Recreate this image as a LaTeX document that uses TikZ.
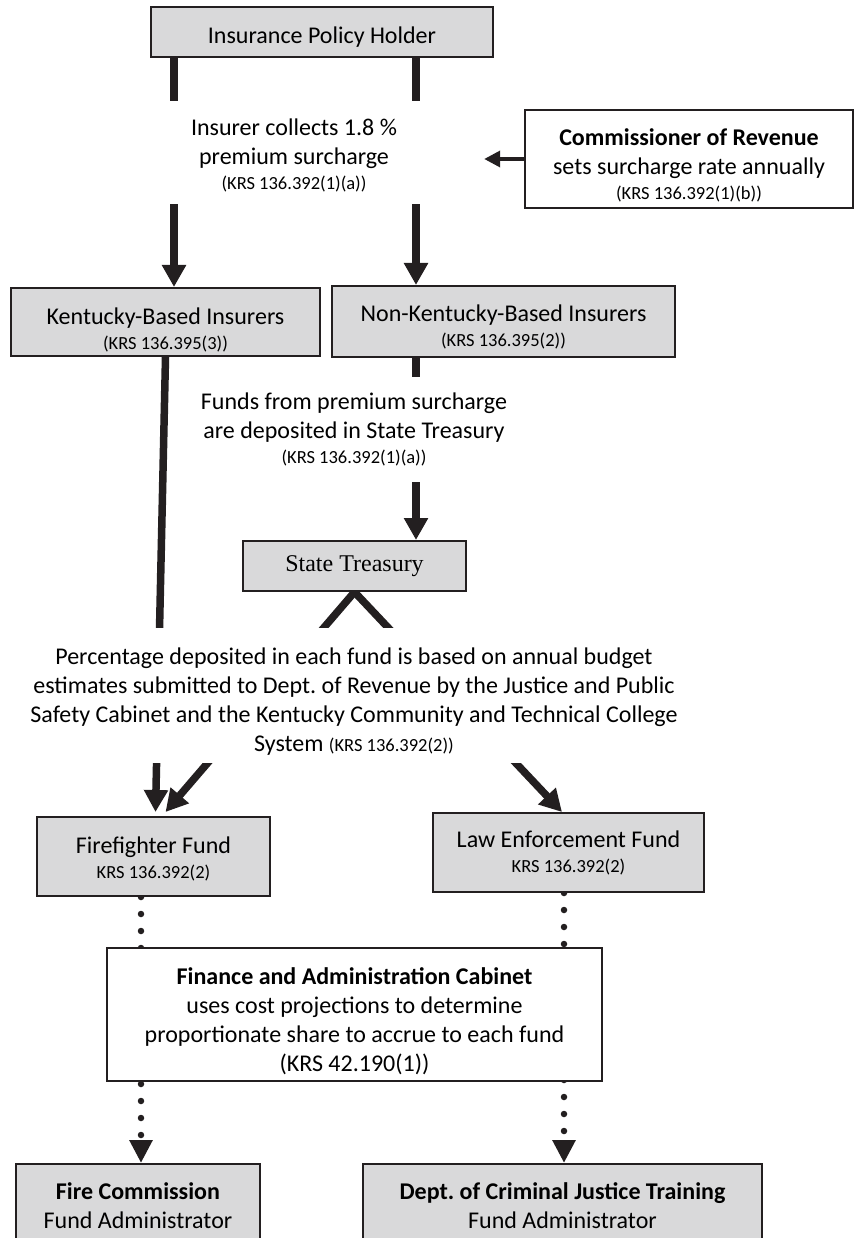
\documentclass[tikz,border=0pt]{standalone}
\usepackage{fontspec}
\setmainfont{Carlito}
\newfontfamily\treasfont{Liberation Serif}
\usetikzlibrary{arrows.meta,backgrounds}
\definecolor{boxgray}{RGB}{217,217,218}
\definecolor{boxline}{RGB}{35,31,32}
\newcommand{\krs}[1]{{\fontsize{18.5}{22}\selectfont #1}}
\frenchspacing

\begin{document}
\begin{tikzpicture}[x=1pt, y=-1pt, font=\fontsize{24}{29}\selectfont,
  box/.style = {draw=boxline, line width=2pt, fill=boxgray, align=center, inner sep=0pt},
  wbox/.style = {box, fill=white},
  txt/.style = {fill=white, align=center, inner sep=0pt},
  arr/.style = {line width=7.5pt, draw=boxline, -{Triangle[width=23pt, length=22pt]}},
  thinarr/.style = {line width=3.5pt, draw=boxline, -{Triangle[width=16pt, length=16pt]}},
  dotarr/.style = {line width=6.5pt, draw=boxline, line cap=round, dash pattern=on 0pt off 17pt, -{Triangle[width=22pt, length=23pt]}}]
  \clip (0,0) rectangle (854,1238);
  \node[box, minimum width=342pt, minimum height=50pt] (0) at (322,32) {\rule{0pt}{26pt}Insurance Policy Holder};
  \node[txt, minimum width=380pt, minimum height=103pt] (1) at (294,152.5) {\rule{0pt}{22pt}Insurer collects 1.8 \%\\premium surcharge\\[-4pt]\krs{(KRS 136.392(1)(a))}};
  \node[wbox, minimum width=328pt, minimum height=98pt] (2) at (689,159) {\rule{0pt}{30pt}\textbf{Commissioner of Revenue}\\sets surcharge rate annually\\[-4pt]\krs{(KRS 136.392(1)(b))}};
  \node[box, minimum width=309pt, minimum height=68pt] (3) at (165.5,322) {\rule{0pt}{32pt}Kentucky-Based Insurers\\[-4pt]\krs{(KRS 136.395(3))}};
  \node[box, minimum width=343pt, minimum height=71pt] (4) at (503.5,321.5) {\rule{0pt}{28pt}Non-Kentucky-Based Insurers\\[-4pt]\krs{(KRS 136.395(2))}};
  \node[txt, minimum height=105pt] (5) at (354,429.5) {Funds from premium surcharge\\are deposited in State Treasury\\[-4pt]\krs{(KRS 136.392(1)(a))}};
  \node[box, minimum width=223pt, minimum height=50pt, font=\treasfont\fontsize{24}{29}\selectfont] (6) at (354.5,566) {State Treasury};
  \node[txt, minimum height=135pt] (7) at (354,695.5) {\rule{0pt}{28pt}Percentage deposited in each fund is based on annual budget\\estimates submitted to Dept. of Revenue by the Justice and Public\\Safety Cabinet and the Kentucky Community and Technical College\\System \krs{(KRS 136.392(2))}};
  \node[box, minimum width=233pt, minimum height=79pt] (8) at (153.5,856.5) {\rule{0pt}{22pt}Firefighter Fund\\[-4pt]\krs{KRS 136.392(2)}};
  \node[box, minimum width=271pt, minimum height=79pt] (9) at (568.5,852.5) {Law Enforcement Fund\\[-4pt]\krs{KRS 136.392(2)}};
  \node[wbox, minimum width=495pt, minimum height=133pt] (10) at (354.5,1014.5) {\rule{0pt}{30pt}\textbf{Finance and Administration Cabinet}\\uses cost projections to determine\\proportionate share to accrue to each fund\\(KRS 42.190(1))};
  \node[box, minimum width=244pt, minimum height=84pt] (11) at (138,1206) {\textbf{Fire Commission}\\Fund Administrator};
  \node[box, minimum width=399pt, minimum height=84pt] (12) at (562.5,1206) {\textbf{Dept. of Criminal Justice Training}\\Fund Administrator};
  %
  \coordinate (a) at (174,0);
  \coordinate (b) at (416,0);
  \coordinate (c) at (141,0);
  \coordinate (d) at (564,0);
  \begin{scope}[on background layer]
    \draw[arr] (0.south -| a) -- (3.north -| a);
    \draw[arr] (0.south -| b) -- (4.north -| b);
    \draw[thinarr] (2.west) -- (2.west -| 1.east);
    \draw[arr] (4.south -| b) -- (6.north -| b);
    \draw[arr] (3.south) -- ([xshift=2pt, yshift=4pt]8.north);
    \draw[arr] (6.south) -- ([xshift=12pt, yshift=4pt]8.north);
    \draw[arr] (6.south) -- ([xshift=-6.5pt]9.north);
    \draw[dotarr] (8.south -| c) -- (11.north -| c);
    \draw[dotarr] (9.south -| d) -- (12.north -| d);
  \end{scope}
\end{tikzpicture}
\end{document}
